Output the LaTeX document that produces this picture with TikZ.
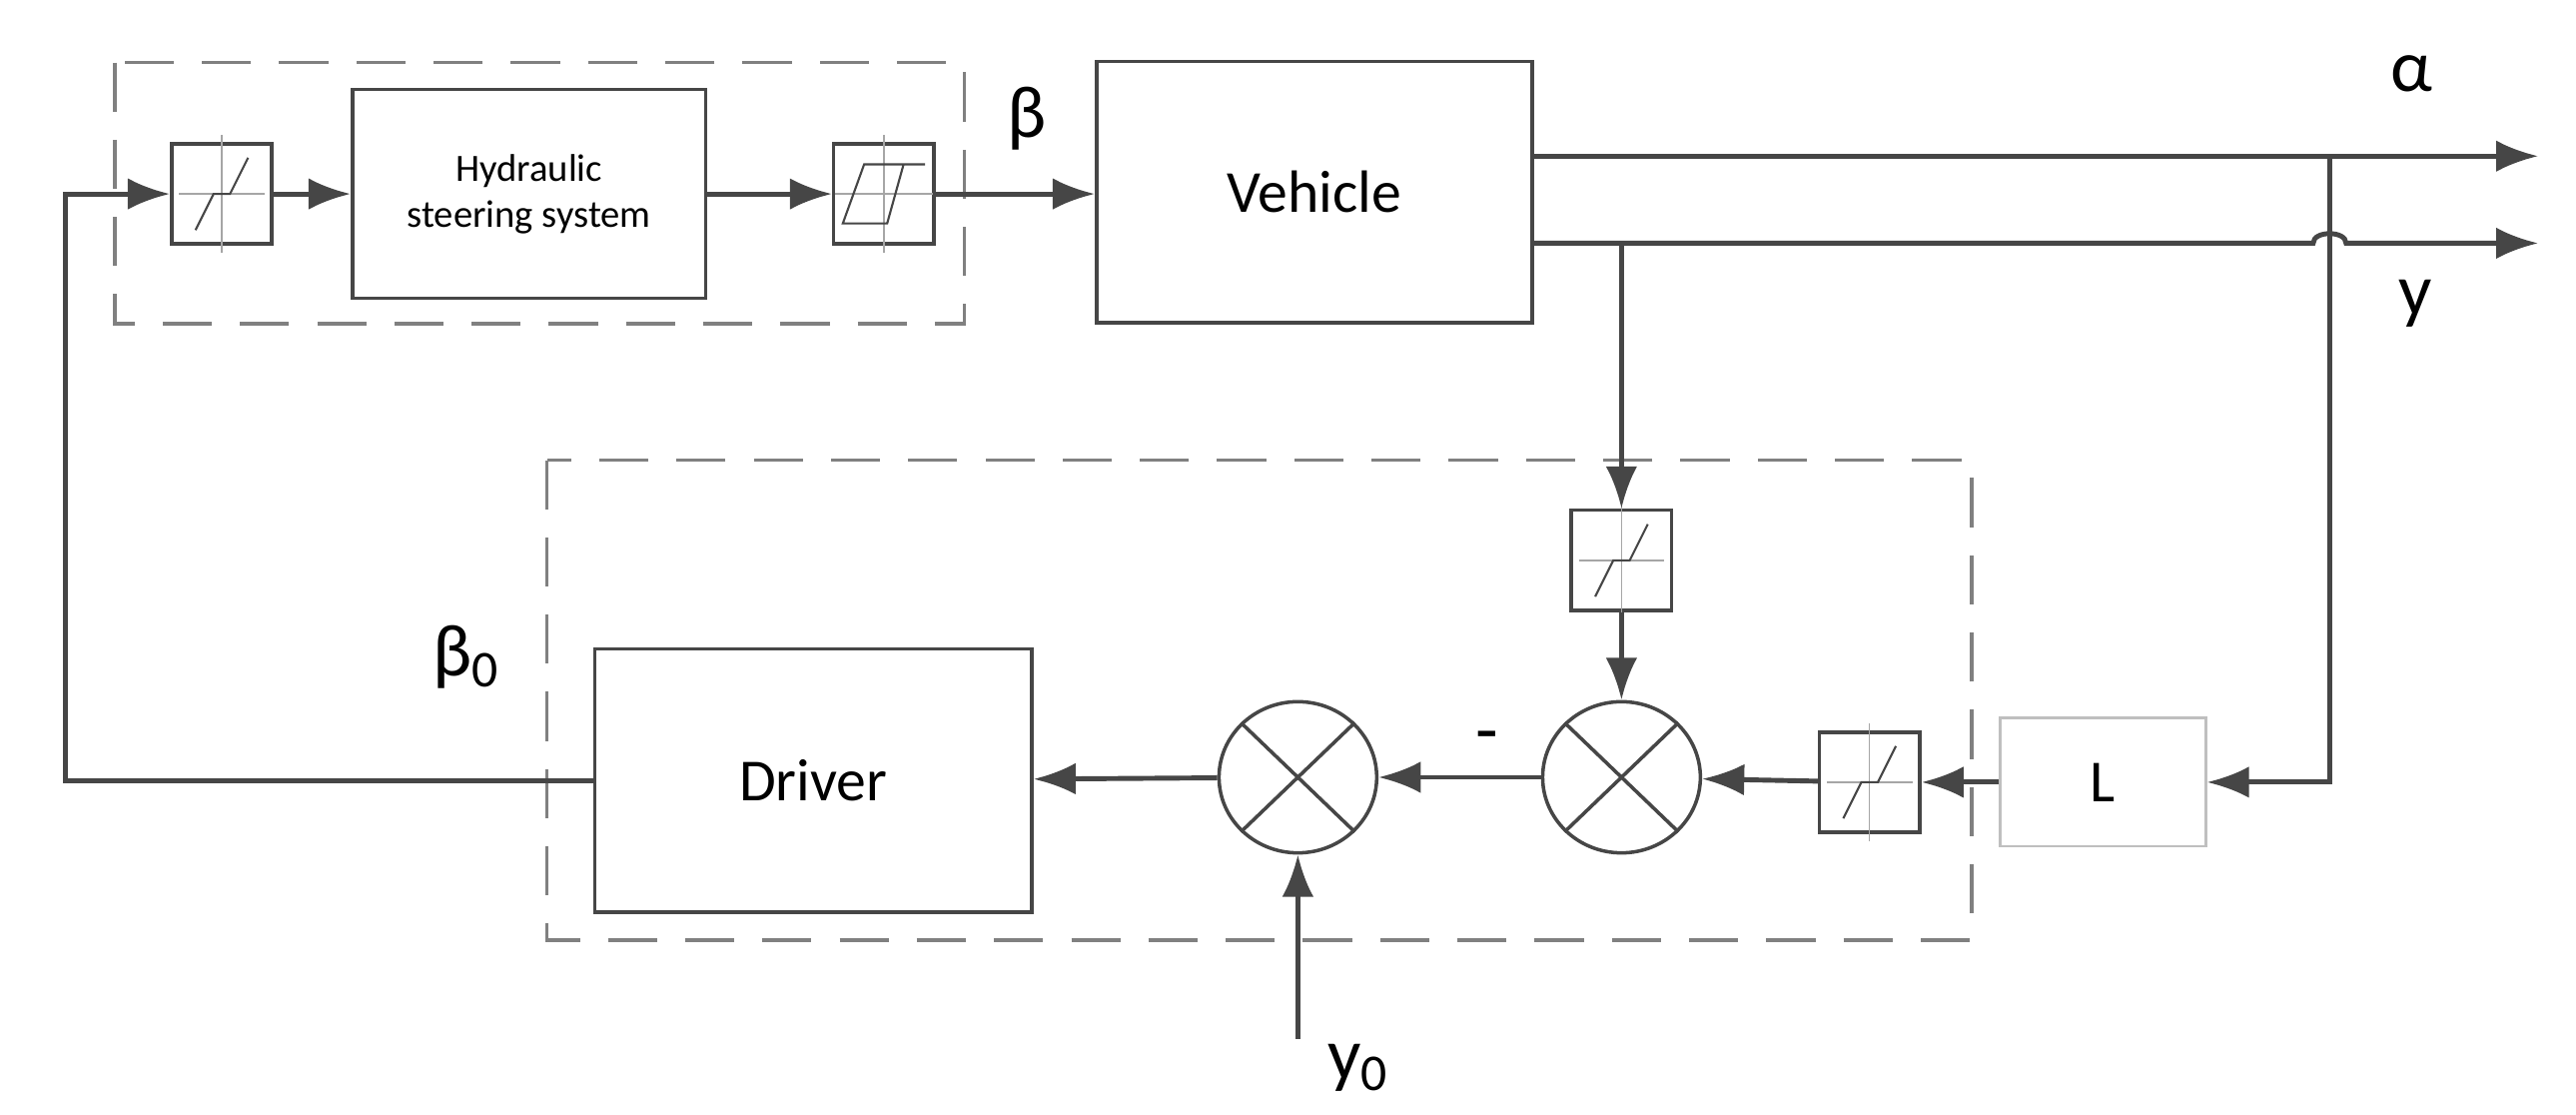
\documentclass[tikz,border=0pt]{standalone}
\usepackage{fontspec}
\setmainfont{Carlito}
\usetikzlibrary{arrows.meta,shapes.geometric}
\newlength{\px}
\setlength{\px}{0.01645cm}
\definecolor{linegray}{RGB}{70,70,70}
\tikzset{
  sig/.style={draw=linegray,line width=1.4pt,-{Latex[length=12pt,width=9pt]}},
  block/.style={draw=linegray,line width=1pt,fill=white,inner sep=0pt},
  nl/.style={block,minimum width=61\px,minimum height=61\px},
  summer/.style={draw=linegray,line width=1pt,ellipse,minimum width=96\px,minimum height=92\px,inner sep=0pt},
  frame/.style={draw=gray,line width=1pt,dash pattern=on 14pt off 8pt},
  lbl/.style={font=\fontsize{21}{24}\selectfont}
}
% dead zone glyph inside a small block
\newcommand{\deadzone}[1]{%
  \draw[gray!70,line width=0.4pt] ([xshift=-26\px]#1.center) -- ([xshift=26\px]#1.center)
    ([yshift=-36\px]#1.center) -- ([yshift=36\px]#1.center);
  \draw[linegray,line width=0.6pt] ([xshift=-16\px,yshift=-22\px]#1.center) -- ([xshift=-5\px]#1.center)
    -- ([xshift=5\px]#1.center) -- ([xshift=16\px,yshift=22\px]#1.center);}
% hysteresis glyph
\newcommand{\hyst}[1]{%
  \draw[gray!70,line width=0.4pt] ([xshift=-30\px]#1.center) -- ([xshift=30\px]#1.center)
    ([yshift=-36\px]#1.center) -- ([yshift=36\px]#1.center);
  \draw[linegray,line width=0.6pt] ([xshift=-25\px,yshift=-18\px]#1.center) -- ([xshift=2\px,yshift=-18\px]#1.center)
    -- ([xshift=12\px,yshift=18\px]#1.center) -- ([xshift=-12\px,yshift=18\px]#1.center) -- cycle
    ([xshift=12\px,yshift=18\px]#1.center) -- ([xshift=25\px,yshift=18\px]#1.center);}

\begin{document}
\begin{tikzpicture}[x=\px,y=-\px]
\useasboundingbox (0,0) rectangle (1568,678);
% frames
\draw[frame] (70,38) rectangle (587,197);
\draw[frame] (333,280) rectangle (1200,572);
% steering part
\node[nl] (sat1) at (135,118) {};
\node[block,minimum width=215\px,minimum height=127\px,align=center,font=\fontsize{11}{13}\selectfont] (hyd) at (322,118) {Hydraulic\\steering system};
\node[nl] (hys) at (538,118) {};
\node[block,minimum width=265\px,minimum height=159\px,font=\fontsize{17}{20}\selectfont] (veh) at (800,117) {Vehicle};
% driver part
\node[nl] (sat3) at (987,341) {};
\node[summer] (sum2) at (987,473) {};
\node[nl] (sat4) at (1138,476) {};
\node[summer] (sum1) at (790,473) {};
\node[block,minimum width=266\px,minimum height=160\px,font=\fontsize{17}{20}\selectfont] (drv) at (495,475) {Driver};
\node[draw=gray!50,line width=0.8pt,minimum width=125\px,minimum height=78\px,inner sep=0pt,font=\fontsize{17}{20}\selectfont] (L) at (1280,476) {L};
\deadzone{sat1}
\hyst{hys}
\deadzone{sat3}
\deadzone{sat4}
\foreach \s in {sum1,sum2}{
  \draw[linegray,line width=1pt] (\s.north west) -- (\s.south east) (\s.north east) -- (\s.south west);}
% free ends
\coordinate (aend) at (1545,95);
\coordinate (yend) at (1545,148);
\coordinate (yfrom) at (790,632);
\coordinate (tap) at (1418,95);
\coordinate (ytap) at (987,148);
% connectors
\draw[sig] (sat1) -- (hyd);
\draw[sig] (hyd) -- (hys);
\draw[sig] (hys) -- (veh.west |- hys);
\draw[sig] (veh.east |- aend) -- (aend);
\draw[sig] (veh.east |- yend) -- (1408,148) to[out=90,in=90] (1428,148) -- (yend);
\draw[sig] (tap) |- (L.east);
\draw[sig] (ytap) -- (sat3);
\draw[sig] (sat3) -- (sum2);
\draw[sig] (L) -- (sat4);
\draw[sig] (sat4) -- (sum2);
\draw[sig] (sum2) -- (sum1);
\draw[sig] (sum1) -- (drv);
\draw[sig] (yfrom) -- (sum1);
\draw[sig] (drv.west) -- (40,475) |- (sat1.west);
% labels
\node[lbl] at (625,72) {β};
\node[lbl] at (1468,45) {α};
\node[lbl] at (1470,185) {y};
\node[lbl] at (284,400) {β\textsubscript{0}};
\node[lbl] at (827,650) {y\textsubscript{0}};
\node[lbl] at (905,452) {-};
\end{tikzpicture}
\end{document}
